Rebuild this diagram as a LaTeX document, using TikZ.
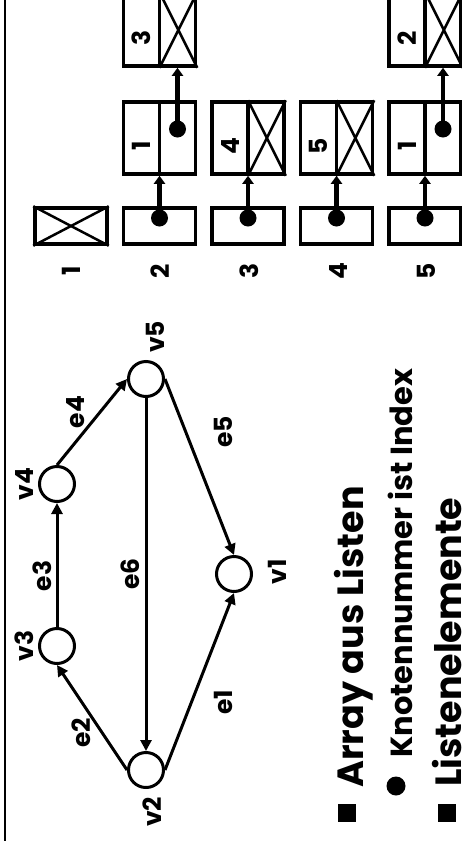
\documentclass[tikz,border=0pt]{standalone}
\usepackage{fontspec}
\setmainfont{Poppins}
\usetikzlibrary{arrows.meta}
\begin{document}
\begin{tikzpicture}[x=1pt,y=1pt,
  lbl/.style={font=\fontsize{25}{25}\selectfont\bfseries, rotate=90, inner sep=0pt},
  numl/.style={font=\fontsize{25}{25}\selectfont\bfseries, rotate=90, inner sep=0pt},
  vtx/.style={circle, draw, line width=3pt, minimum size=35pt, inner sep=0pt},
  gedge/.style={line width=3pt, -{Triangle[length=11pt,width=11pt]}},
  ladge/.style={line width=4.5pt, -{Triangle[length=8pt,width=11pt]}},
  abox/.style={draw, line width=3.5pt, minimum width=72pt, minimum height=36pt, inner sep=0pt},
  ebox/.style={draw, line width=3.5pt, minimum width=72pt, minimum height=72pt, inner sep=0pt},
  thinl/.style={line width=2.5pt},
  blob/.style={circle, fill, minimum size=17pt, inner sep=0pt},
  sqb/.style={fill, minimum size=18pt, inner sep=0pt},
  big/.style={font=\fontsize{36.5}{36.5}\selectfont\bfseries, rotate=90, inner sep=0pt, anchor=base west},
  mid/.style={font=\fontsize{30.5}{30.5}\selectfont\bfseries, rotate=90, inner sep=0pt, anchor=base west}
]
\clip (0,0) rectangle (462,-841);
% left frame line
\coordinate (ltop) at (5,0);
\coordinate (lbot) at (5,-841);
\draw[line width=1.8pt] (ltop) -- (lbot);

% array boxes
\node[abox] (a1) at (71,-226) {};
\node[abox] (a2) at (159.5,-226) {};
\node[abox] (a3) at (248,-226) {};
\node[abox] (a4) at (336.5,-226) {};
\node[abox] (a5) at (425,-226) {};
\draw[thinl] (a1.north west) -- (a1.south east) (a1.north east) -- (a1.south west);

% index labels
\node[numl] (i1) at (71,-271) {1};
\node[numl] (i2) at (160.5,-271) {2};
\node[numl] (i3) at (249.5,-271) {3};
\node[numl] (i4) at (338,-271) {4};
\node[numl] (i5) at (426.5,-271) {5};

% dots in array
\node[blob] (d2) at (159.5,-218) {};
\node[blob] (d3) at (248,-218) {};
\node[blob] (d4) at (336.5,-218) {};
\node[blob] (d5) at (425,-218) {};

% list elements
\node[ebox] (e2) at (159.5,-138) {};
\node[ebox] (e3) at (248,-138) {};
\node[ebox] (e4) at (336.5,-138) {};
\node[ebox] (e5) at (425,-138) {};
\node[ebox] (t2) at (159.5,-30) {};
\node[ebox] (t5) at (425,-30) {};
\foreach \n in {e2,e3,e4,e5,t2,t5}{
  \draw[line width=3.5pt] (\n.north) -- (\n.south);
}
\foreach \n in {e3,e4,t2,t5}{
  \draw[thinl] (\n.north) -- (\n.south east) (\n.north east) -- (\n.south);
}
\node[numl] (n2) at (141.5,-146) {1};
\node[numl] (n3) at (230,-146) {4};
\node[numl] (n4) at (318.5,-146) {5};
\node[numl] (n5) at (407,-146) {1};
\node[numl] (nt2) at (141.5,-38) {3};
\node[numl] (nt5) at (407,-38) {2};
\node[blob] (f2) at (177.5,-129) {};
\node[blob] (f5) at (443,-129) {};

% list arrows
\draw[ladge] (d2.center) -- (e2.south);
\draw[ladge] (d3.center) -- (e3.south);
\draw[ladge] (d4.center) -- (e4.south);
\draw[ladge] (d5.center) -- (e5.south);
\draw[ladge] (f2.center) -- (f2 |- t2.south);
\draw[ladge] (f5.center) -- (f5 |- t5.south);

% graph
\node[vtx] (v5) at (146,-379) {};
\node[vtx] (v4) at (57,-484) {};
\node[vtx] (v3) at (57,-646) {};
\node[vtx] (v2) at (146,-770) {};
\node[vtx] (v1) at (234,-574) {};
\draw[gedge] (v2.west) -- (v3.south);
\draw[gedge] (v3.north) -- (v4.south);
\draw[gedge] (v4.north) -- (v5.west);
\draw[gedge] (v5.east) -- (v1.north);
\draw[gedge] (v2.east) -- (v1.south);
\draw[gedge] (v5.south) -- (v2.north);

\node[lbl] (lv5) at (155,-337) {v5};
\node[lbl] (lv4) at (24,-484) {v4};
\node[lbl] (lv3) at (24,-646) {v3};
\node[lbl] (lv2) at (152,-812) {v2};
\node[lbl] (lv1) at (277,-572) {v1};
\node[lbl] (le4) at (76,-412) {e4};
\node[lbl] (le5) at (223,-432) {e5};
\node[lbl] (le3) at (42,-576) {e3};
\node[lbl] (le6) at (130,-574) {e6};
\node[lbl] (le1) at (223,-702) {e1};
\node[lbl] (le2) at (81,-733) {e2};

% bullets
\node[sqb] (b1) at (347,-813) {};
\node[big] (t1) at (363,-788) {Array aus Listen};
\node[circle, fill, minimum size=19pt, inner sep=0pt] (b2) at (396,-786) {};
\node[mid] (tt2) at (412,-758) {Knotennummer ist Index};
\node[sqb] (b3) at (447,-813) {};
\node[big] (tt3) at (461,-787) {Listenelemente};
\end{tikzpicture}
\end{document}
